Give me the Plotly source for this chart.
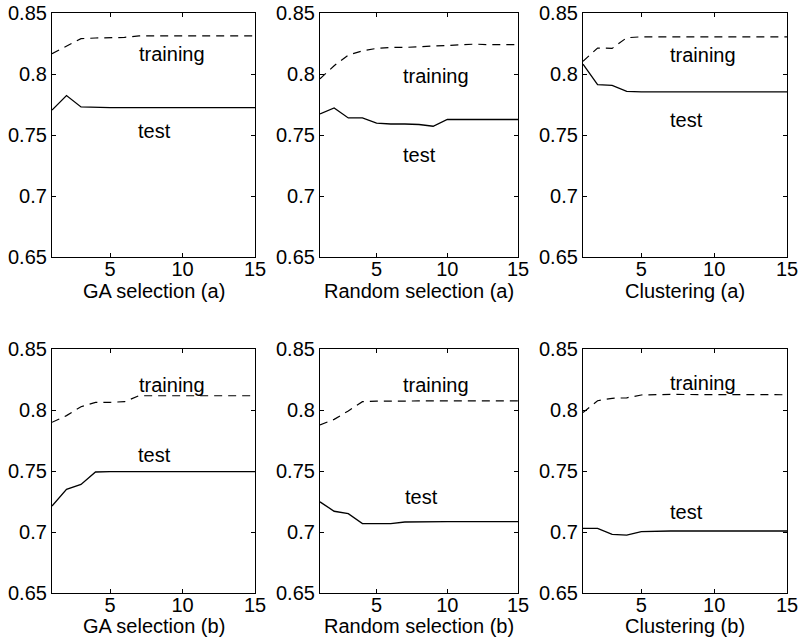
import plotly.graph_objects as go

x_vals = list(range(1, 16))

titles = ["GA selection (a)", "Random selection (a)", "Clustering (a)",
          "GA selection (b)", "Random selection (b)", "Clustering (b)"]

train_ga_a = [0.8166, 0.823, 0.829, 0.8295, 0.8295, 0.830, 0.8313, 0.8313, 0.8313, 0.8313, 0.8313, 0.8313, 0.8313, 0.8313, 0.8313]
test_ga_a = [0.7704, 0.7823, 0.773, 0.7725, 0.7725, 0.7725, 0.7725, 0.7725, 0.7725, 0.7725, 0.7725, 0.7725, 0.7725, 0.7725, 0.7725]

train_rand_a = [0.796, 0.8068, 0.8155, 0.819, 0.821, 0.8218, 0.8218, 0.8223, 0.823, 0.8237, 0.8243, 0.8245, 0.824, 0.824, 0.824]
test_rand_a = [0.7673, 0.7722, 0.764, 0.764, 0.7597, 0.759, 0.759, 0.7586, 0.7572, 0.7627, 0.7627, 0.7627, 0.7627, 0.7627, 0.7627]

train_clu_a = [0.8104, 0.8213, 0.821, 0.8297, 0.8305, 0.8305, 0.8305, 0.8305, 0.8305, 0.8305, 0.8305, 0.8305, 0.8305, 0.8305, 0.8305]
test_clu_a = [0.808, 0.7913, 0.7907, 0.7858, 0.7853, 0.7853, 0.7853, 0.7853, 0.7853, 0.7853, 0.7853, 0.7853, 0.7853, 0.7853, 0.7853]

train_ga_b = [0.7899, 0.7954, 0.8027, 0.8063, 0.8063, 0.8068, 0.8117, 0.8117, 0.8117, 0.8117, 0.8117, 0.8117, 0.8117, 0.8117, 0.8117]
test_ga_b = [0.7213, 0.735, 0.739, 0.7492, 0.7495, 0.7495, 0.7495, 0.7495, 0.7495, 0.7495, 0.7495, 0.7495, 0.7495, 0.7495, 0.7495]

train_rand_b = [0.7877, 0.7923, 0.7992, 0.8068, 0.8072, 0.8074, 0.8074, 0.8074, 0.8074, 0.8074, 0.8074, 0.8074, 0.8074, 0.8074, 0.8074]
test_rand_b = [0.7247, 0.717, 0.715, 0.7069, 0.7069, 0.7069, 0.7082, 0.7085, 0.7085, 0.7085, 0.7085, 0.7085, 0.7085, 0.7085, 0.7085]

train_clu_b = [0.798, 0.8076, 0.8096, 0.810, 0.8123, 0.8128, 0.8128, 0.8127, 0.8126, 0.8125, 0.8125, 0.8125, 0.8125, 0.8125, 0.8125]
test_clu_b = [0.703, 0.703, 0.698, 0.6975, 0.7003, 0.7008, 0.7008, 0.7008, 0.7008, 0.7008, 0.7008, 0.7008, 0.7008, 0.7008, 0.7008]

train_series = [train_ga_a, train_rand_a, train_clu_a, train_ga_b, train_rand_b, train_clu_b]
test_series = [test_ga_a, test_rand_a, test_clu_a, test_ga_b, test_rand_b, test_clu_b]

# label positions (data coords) for "training" / "test"
train_label_pos = [(9.25, 0.816), (9.2, 0.798), (9.24, 0.8156), (9.25, 0.8205), (9.2, 0.8205), (9.24, 0.822)]
test_label_pos = [(8.1, 0.7533), (8.0, 0.7336), (8.09, 0.7623), (8.1, 0.763), (8.19, 0.729), (8.09, 0.716)]

y_ticks = [0.65, 0.7, 0.75, 0.8, 0.85]
y_tick_text = ["0.65", "0.7", "0.75", "0.8", "0.85"]
x_ticks = [5, 10, 15]

W, H = 799, 643
col_px = [(52, 255), (320, 518), (583, 787)]
row_px = [(13, 257), (349, 593)]
ML, MT = col_px[0][0], row_px[0][0]
MR, MB = W - col_px[2][1], H - row_px[1][1]
PW, PH = W - ML - MR, H - MT - MB

def xdom(c):
    a, b = col_px[c]
    return [(a - ML) / PW, (b - ML) / PW]

def ydom(r):
    top, bot = row_px[r]
    return [(H - MB - bot) / PH, (H - MB - top) / PH]

FONT = "Liberation Sans, Arial, Helvetica, sans-serif"
FS = 20

fig = go.Figure()
layout = {}
annotations = []
for i in range(6):
    r, c = divmod(i, 3)
    n = i + 1
    xa = "x" if n == 1 else f"x{n}"
    ya = "y" if n == 1 else f"y{n}"
    fig.add_trace(go.Scatter(x=x_vals, y=train_series[i], mode="lines",
                             line=dict(color="black", width=1.2, dash="8px,6px"),
                             xaxis=xa, yaxis=ya, showlegend=False, hoverinfo="skip"))
    fig.add_trace(go.Scatter(x=x_vals, y=test_series[i], mode="lines",
                             line=dict(color="black", width=1.3),
                             xaxis=xa, yaxis=ya, showlegend=False, hoverinfo="skip"))
    key = "" if n == 1 else str(n)
    layout["xaxis" + key] = dict(domain=xdom(c), anchor=ya, range=[1, 15],
                                 tickvals=x_ticks, ticks="inside", ticklen=4,
                                 tickcolor="black", showline=True, linecolor="black",
                                 linewidth=1.2, mirror="allticks", showgrid=False,
                                 zeroline=False, automargin=False, ticklabelstandoff=-6,
                                 tickfont=dict(family=FONT, size=FS, color="black"))
    layout["yaxis" + key] = dict(domain=ydom(r), anchor=xa, range=[0.65, 0.85],
                                 tickvals=y_ticks, ticktext=y_tick_text, ticks="inside",
                                 ticklen=4, tickcolor="black", showline=True,
                                 linecolor="black", linewidth=1.2, mirror="allticks",
                                 showgrid=False, zeroline=False, automargin=False,
                                 tickfont=dict(family=FONT, size=FS, color="black"))
    tx, ty = train_label_pos[i]
    annotations.append(dict(x=tx, y=ty, xref=xa, yref=ya, text="training", showarrow=False,
                            font=dict(family=FONT, size=FS, color="black")))
    sx, sy = test_label_pos[i]
    annotations.append(dict(x=sx, y=sy, xref=xa, yref=ya, text="test", showarrow=False,
                            font=dict(family=FONT, size=FS, color="black")))
    annotations.append(dict(x=0.5, y=0, xref=f"{xa} domain", yref=f"{ya} domain",
                            text=titles[i], showarrow=False, yanchor="middle",
                            yshift=-34 if r == 0 else -33,
                            font=dict(family=FONT, size=FS, color="black")))

fig.update_layout(**layout)
fig.update_layout(width=W, height=H, margin=dict(l=ML, r=MR, t=MT, b=MB, autoexpand=False),
                  paper_bgcolor="white", plot_bgcolor="white",
                  annotations=annotations, showlegend=False)

# remove the default 8px page margin so the figure fills the window exactly
fig.write_html("out.html", config={"displayModeBar": False},
               post_script="document.body.style.margin='0px';")
